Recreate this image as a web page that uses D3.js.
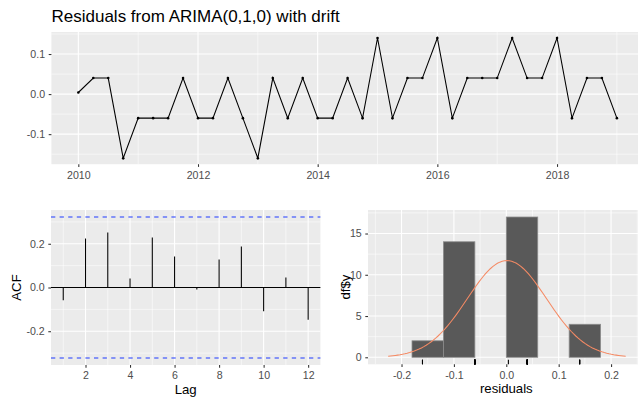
<!DOCTYPE html>
<html>
<head>
<meta charset="utf-8">
<script src="https://cdn.jsdelivr.net/npm/d3@7"></script>
<style>
  body { margin: 0; background: white; }
  svg { display: block; font-family: "Liberation Sans", Arial, sans-serif; }
</style>
</head>
<body>
<script>
// residuals, quarterly from 2010 Q1
var startYear = 2010;
var freq = 4;
var resid = [0.004, 0.04, 0.04, -0.16, -0.06, -0.06, -0.06, 0.04,
             -0.06, -0.06, 0.04, -0.06, -0.16, 0.04, -0.06, 0.04,
             -0.06, -0.06, 0.04, -0.06, 0.14, -0.06, 0.04, 0.04,
             0.14, -0.06, 0.04, 0.04, 0.04, 0.14, 0.04, 0.04,
             0.14, -0.06, 0.04, 0.04, -0.06];

var acfLags = [1, 2, 3, 4, 5, 6, 7, 8, 9, 10, 11, 12];
var acfVals = [-0.058, 0.224, 0.252, 0.041, 0.229, 0.142, -0.009, 0.128, 0.188, -0.109, 0.046, -0.147];

var binEdges = [-0.18, -0.12, -0.06, 0, 0.06, 0.12, 0.18];

var yearTicks = [2010, 2012, 2014, 2016, 2018];
var residTicks = [-0.1, 0, 0.1];
var lagTicks = [2, 4, 6, 8, 10, 12];
var acfTicks = [-0.2, 0, 0.2];
var histXTicks = [-0.2, -0.1, 0, 0.1, 0.2];
var histYTicks = [0, 5, 10, 15];

var width = 638, height = 400;
var panelBg = "#EBEBEB";
var tickCol = "#333333", labCol = "#4D4D4D";

var svg = d3.select("body").append("svg")
            .attr("width", width)
            .attr("height", height);

function translate(x, y) {
    return "translate(" + x + ", " + y + ")";
}

function expand(ext, m) {
    var d = (ext[1] - ext[0]) * m;
    return [ext[0] - d, ext[1] + d];
}

function mids(ticks) {
    var step = ticks[1] - ticks[0];
    var out = [ticks[0] - step / 2];
    ticks.forEach(function (t) { out.push(t + step / 2); });
    return out;
}

// panel background, grid and axes
function panel(x, y, xMajor, yMajor, xFmt, yFmt) {
    var x0 = x.range()[0], x1 = x.range()[1];
    var y0 = y.range()[0], y1 = y.range()[1];
    var g = svg.append("g");
    g.append("rect")
     .attr("x", x0).attr("y", y1)
     .attr("width", x1 - x0).attr("height", y0 - y1)
     .attr("fill", panelBg);

    var inX = function (v) { return v >= x.domain()[0] && v <= x.domain()[1]; };
    var inY = function (v) { return v >= y.domain()[0] && v <= y.domain()[1]; };

    g.selectAll("line.xmin").data(mids(xMajor).filter(inX)).enter().append("line")
     .attr("x1", function (d) { return x(d); }).attr("x2", function (d) { return x(d); })
     .attr("y1", y0).attr("y2", y1)
     .attr("stroke", "white").attr("stroke-width", 0.55);
    g.selectAll("line.ymin").data(mids(yMajor).filter(inY)).enter().append("line")
     .attr("y1", function (d) { return y(d); }).attr("y2", function (d) { return y(d); })
     .attr("x1", x0).attr("x2", x1)
     .attr("stroke", "white").attr("stroke-width", 0.55);
    g.selectAll("line.xmaj").data(xMajor).enter().append("line")
     .attr("x1", function (d) { return x(d); }).attr("x2", function (d) { return x(d); })
     .attr("y1", y0).attr("y2", y1)
     .attr("stroke", "white").attr("stroke-width", 1.1);
    g.selectAll("line.ymaj").data(yMajor).enter().append("line")
     .attr("y1", function (d) { return y(d); }).attr("y2", function (d) { return y(d); })
     .attr("x1", x0).attr("x2", x1)
     .attr("stroke", "white").attr("stroke-width", 1.1);

    var ax = svg.append("g")
                .attr("transform", translate(0, y0))
                .call(d3.axisBottom(x).tickValues(xMajor).tickSize(2.7).tickPadding(4.2).tickFormat(xFmt));
    var ay = svg.append("g")
                .attr("transform", translate(x0, 0))
                .call(d3.axisLeft(y).tickValues(yMajor).tickSize(2.7).tickPadding(3.6).tickFormat(yFmt));
    [ax, ay].forEach(function (a) {
        a.select(".domain").remove();
        a.selectAll(".tick line").attr("stroke", tickCol).attr("stroke-width", 1.07);
        a.selectAll(".tick text").attr("fill", labCol).style("font-size", "10.6px")
         .style("font-family", "'Liberation Sans', Arial, sans-serif");
    });
}

function fmt1(d) { return d3.format(".1f")(d).replace("−", "-"); }

// ---- top: residual series ----
var times = resid.map(function (v, i) { return startYear + i / freq; });
var tsX = d3.scaleLinear().domain(expand(d3.extent(times), 0.05)).range([51.4, 643.8]);
var tsY = d3.scaleLinear().domain(expand(d3.extent(resid), 0.05)).range([164.2, 32]);

panel(tsX, tsY, yearTicks, residTicks, d3.format("d"), fmt1);

var pts = resid.map(function (v, i) { return [times[i], v]; });
svg.append("path")
   .attr("d", d3.line().x(function (d) { return tsX(d[0]); }).y(function (d) { return tsY(d[1]); })(pts))
   .attr("fill", "none").attr("stroke", "black").attr("stroke-width", 1.07);
svg.selectAll("circle.pt").data(pts).enter().append("circle")
   .attr("cx", function (d) { return tsX(d[0]); })
   .attr("cy", function (d) { return tsY(d[1]); })
   .attr("r", 1.3).attr("fill", "black");

svg.append("text")
   .attr("x", 51.5).attr("y", 22)
   .style("font-size", "17px").attr("fill", "black")
   .text("Residuals from ARIMA(0,1,0) with drift");

// ---- bottom left: ACF ----
var ci = 1.96 / Math.sqrt(resid.length);
var acfX = d3.scaleLinear().domain(expand(d3.extent(acfLags), 0.05)).range([51, 320.4]);
var acfY = d3.scaleLinear().domain(expand([-ci, ci], 0.05)).range([365, 210]);

panel(acfX, acfY, lagTicks, acfTicks, d3.format("d"), fmt1);

svg.append("line")
   .attr("x1", acfX.range()[0]).attr("x2", acfX.range()[1])
   .attr("y1", acfY(0)).attr("y2", acfY(0))
   .attr("stroke", "black").attr("stroke-width", 1.07);
svg.selectAll("line.acf").data(acfLags).enter().append("line")
   .attr("x1", function (d) { return acfX(d); }).attr("x2", function (d) { return acfX(d); })
   .attr("y1", acfY(0))
   .attr("y2", function (d, i) { return acfY(acfVals[i]); })
   .attr("stroke", "black").attr("stroke-width", 1.07);
svg.selectAll("line.ci").data([ci, -ci]).enter().append("line")
   .attr("x1", acfX.range()[0]).attr("x2", acfX.range()[1])
   .attr("y1", function (d) { return acfY(d); }).attr("y2", function (d) { return acfY(d); })
   .attr("stroke", "#1f3bff").attr("stroke-width", 1.07)
   .attr("stroke-dasharray", "4.3,4.3");

svg.append("text")
   .attr("x", (acfX.range()[0] + acfX.range()[1]) / 2).attr("y", 393.5)
   .attr("text-anchor", "middle").style("font-size", "13.2px").text("Lag");
svg.append("text")
   .attr("transform", translate(20.5, (acfY.range()[0] + acfY.range()[1]) / 2) + " rotate(-90)")
   .attr("text-anchor", "middle").style("font-size", "13.2px").text("ACF");

// ---- bottom right: histogram ----
var bins = [];
for (var b = 0; b < binEdges.length - 1; b++) {
    var lo = binEdges[b], hi = binEdges[b + 1];
    var n = resid.filter(function (v) { return v > lo + 1e-9 && v <= hi + 1e-9; }).length;
    if (n > 0) bins.push({ x0: lo, x1: hi, n: n });
}
var hX = d3.scaleLinear().domain(expand([-0.24, 0.24], 0.05)).range([368, 644.6]);
var hY = d3.scaleLinear().domain(expand([0, d3.max(bins, function (d) { return d.n; })], 0.05)).range([364.3, 210]);

panel(hX, hY, histXTicks, histYTicks, fmt1, d3.format("d"));

svg.selectAll("rect.bar").data(bins).enter().append("rect")
   .attr("x", function (d) { return hX(d.x0); })
   .attr("y", function (d) { return hY(d.n); })
   .attr("width", function (d) { return hX(d.x1) - hX(d.x0); })
   .attr("height", function (d) { return hY(0) - hY(d.n); })
   .attr("fill", "#595959").attr("stroke", "#8c8c8c").attr("stroke-width", 0.8);

// normal density from residual mean / sd
var mu = d3.mean(resid), sd = d3.deviation(resid);
var bw = binEdges[1] - binEdges[0];
var curve = d3.range(0, 101).map(function (k) {
    var xv = mu - 3 * sd + 6 * sd * k / 100;
    var z = (xv - mu) / sd;
    return [xv, resid.length * bw * Math.exp(-z * z / 2) / (sd * Math.sqrt(2 * Math.PI))];
});
svg.append("path")
   .attr("d", d3.line().x(function (d) { return hX(d[0]); }).y(function (d) { return hY(d[1]); })(curve))
   .attr("fill", "none").attr("stroke", "#f58a64").attr("stroke-width", 1.07);

// rug
svg.selectAll("line.rug").data(resid).enter().append("line")
   .attr("x1", function (d) { return hX(d); }).attr("x2", function (d) { return hX(d); })
   .attr("y1", hY.range()[0]).attr("y2", hY.range()[0] - 4.6)
   .attr("stroke", "black").attr("stroke-width", 1.07);

svg.append("text")
   .attr("x", hX(0)).attr("y", 392.5)
   .attr("text-anchor", "middle").style("font-size", "13.2px").text("residuals");
svg.append("text")
   .attr("transform", translate(349.5, (hY.range()[0] + hY.range()[1]) / 2) + " rotate(-90)")
   .attr("text-anchor", "middle").style("font-size", "13.2px").text("df$y");
</script>
</body>
</html>
